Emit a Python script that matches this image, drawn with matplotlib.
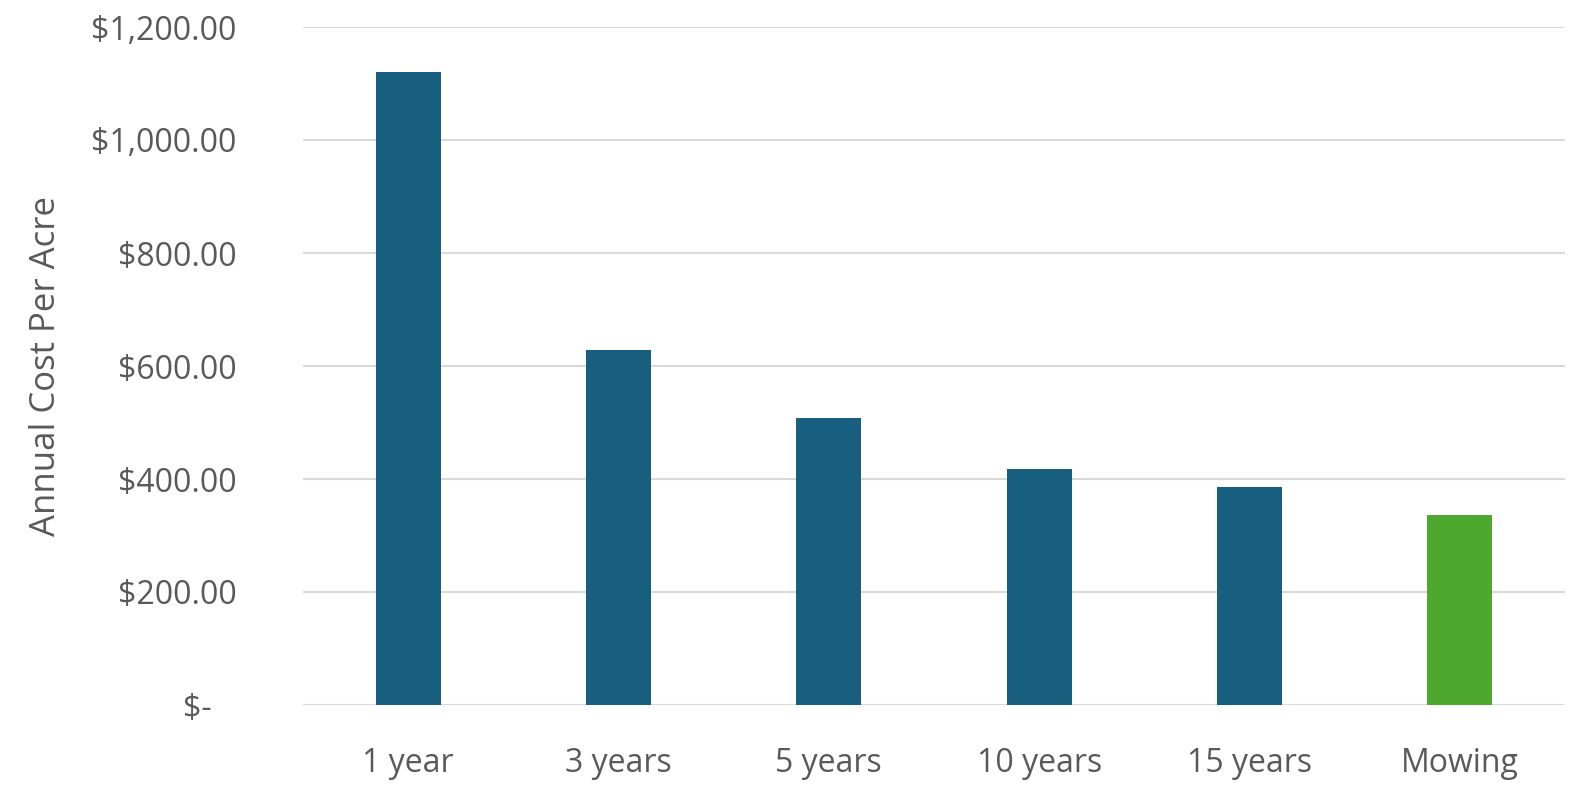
import matplotlib
matplotlib.use("Agg")
import matplotlib.pyplot as plt

categories = ["1 year", "3 years", "5 years", "10 years", "15 years", "Mowing"]
values = [1120, 628, 508, 418, 386, 336]
colors = ["#175E7F"] * 5 + ["#4EA72E"]
yticks = [0, 200, 400, 600, 800, 1000, 1200]

plt.rcParams['font.family'] = ['Open Sans', 'DejaVu Sans']
fig = plt.figure(figsize=(15.95, 8.01), dpi=100)
ax = fig.add_axes([303/1595, 1-705/801, 1262/1595, (705-27)/801])
x = range(len(categories))
ax.bar(x, values, width=0.31, color=colors, zorder=3)
ax.set_xlim(-0.5, 5.5)
ax.set_ylim(0, 1200)
ax.set_yticks(yticks)
ax.set_yticklabels([f"${v:,.2f}" if v else "$-   " for v in yticks])
ax.set_xticks(list(x))
ax.set_xticklabels(categories)
ax.grid(axis='y', color='#D9D9D9', linewidth=1.5, zorder=0)
for s in ax.spines.values():
    s.set_visible(False)
ax.tick_params(length=0, labelsize=23, colors='#595959')
ax.tick_params(axis='y', pad=48)
ax.tick_params(axis='x', pad=30)
ax.set_ylabel("Annual Cost Per Acre", fontsize=25, color='#595959')
ax.yaxis.set_label_coords(-0.19, 0.5)
fig.savefig("out.png", dpi=100)
